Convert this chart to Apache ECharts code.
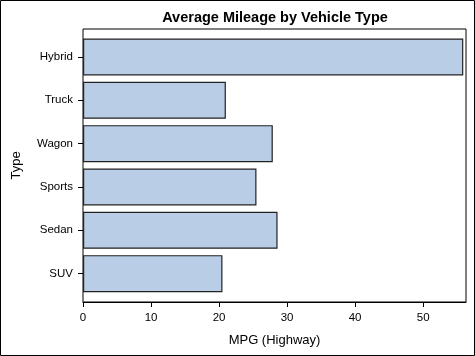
<!DOCTYPE html>
<html><head><meta charset="utf-8">
<script src="https://cdn.jsdelivr.net/npm/echarts@6/dist/echarts.min.js"></script>
<style>html,body{margin:0;padding:0;background:#fff}#c{width:475px;height:356px}</style>
</head><body><div id="c"></div>
<script>
var categories = ['SUV', 'Sedan', 'Sports', 'Wagon', 'Truck', 'Hybrid'];
var mpgHighway = [20.5, 28.6, 25.5, 27.9, 21.0, 55.9];
var xTicks = [0, 10, 20, 30, 40, 50];
var xMax = 56.3;
var titleText = 'Average Mileage by Vehicle Type';
var xName = 'MPG (Highway)';
var yName = 'Type';

var font = 'Liberation Sans, Arial, sans-serif';
var chart = echarts.init(document.getElementById('c'), null, {renderer: 'canvas'});
chart.setOption({
  animation: false,
  backgroundColor: '#fff',
  graphic: [
    {type: 'rect', shape: {x: 0.5, y: 0.5, width: 474, height: 355}, style: {fill: 'none', stroke: '#000', lineWidth: 1}, z: 100},
    {type: 'text', x: 275, y: 17.5, style: {text: titleText, font: 'bold 14.5px ' + font, fill: '#000', align: 'center', verticalAlign: 'middle'}}
  ],
  grid: [
    {left: 83, right: 9, top: 29, bottom: 54, show: true, borderColor: '#000', borderWidth: 1, backgroundColor: 'transparent'},
    {left: 83, right: 9, top: 35.3, bottom: 60.7}
  ],
  xAxis: [
    {gridIndex: 0, type: 'value', min: 0, max: xMax,
     name: xName, nameLocation: 'middle', nameGap: 32,
     nameTextStyle: {fontFamily: font, fontSize: 13, color: '#000'},
     axisLine: {show: true, lineStyle: {color: '#000', width: 1}},
     axisTick: {show: true, length: 5, lineStyle: {color: '#000'}, customValues: xTicks},
     axisLabel: {fontFamily: font, fontSize: 11.5, color: '#000', margin: 10, customValues: xTicks},
     splitLine: {show: false}},
    {gridIndex: 1, type: 'value', min: 0, max: xMax, show: false, splitLine: {show: false}}
  ],
  yAxis: [
    {gridIndex: 0, type: 'value', show: false, splitLine: {show: false}},
    {gridIndex: 1, type: 'category', data: categories, boundaryGap: true,
     name: yName, nameLocation: 'middle', nameGap: 60, nameRotate: 90,
     nameTextStyle: {fontFamily: font, fontSize: 13, color: '#000'},
     axisLine: {show: false},
     axisTick: {show: true, alignWithLabel: true, length: 5, lineStyle: {color: '#000'}},
     axisLabel: {fontFamily: font, fontSize: 11.5, color: '#000', margin: 10},
     splitLine: {show: false}}
  ],
  series: [{
    type: 'bar', xAxisIndex: 1, yAxisIndex: 1, data: mpgHighway, barWidth: 37,
    itemStyle: {color: '#b9cde6', borderColor: '#222', borderWidth: 1.2}
  }]
});
</script></body></html>
